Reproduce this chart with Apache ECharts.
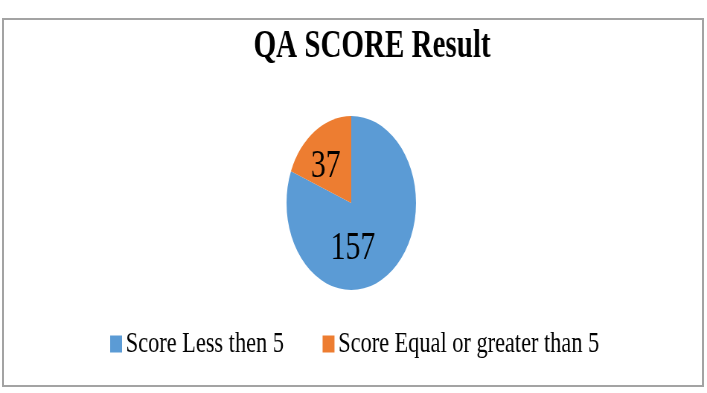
<!DOCTYPE html>
<html>
<head>
<meta charset="utf-8">
<script src="https://cdn.jsdelivr.net/npm/echarts@6/dist/echarts.min.js"></script>
<style>
  html, body { margin:0; padding:0; background:#fff; width:707px; height:393px; overflow:hidden; }
  #frame { position:absolute; left:2px; top:18px; width:698px; height:365px; border:2px solid #a3a3a3; }
  #chart { position:absolute; left:0; top:0; width:950px; height:393px; transform:scaleX(0.7442); transform-origin:0 0; }
</style>
</head>
<body>
<div id="frame"></div>
<div id="chart"></div>
<script>
const titleText = 'QA SCORE Result';
const categories = ['Score Less then 5', 'Score Equal or greater than 5'];
const values = [157, 37];
const colors = ['#5B9BD5', '#ED7D31'];

const chart = echarts.init(document.getElementById('chart'), null, { renderer: 'canvas' });
const labelOffsets = [[-24, 7], [-8, 2]];
chart.setOption({
  animation: false,
  color: colors,
  title: {
    text: titleText,
    left: 495,
    textAlign: 'center',
    top: 22,
    textStyle: { fontFamily: 'Liberation Serif', fontWeight: 'bold', fontSize: 39, color: '#000' }
  },
  legend: {
    data: categories,
    left: 148,
    top: 329,
    padding: 0,
    icon: 'rect',
    itemWidth: 16,
    itemHeight: 17,
    itemGap: 52,
    textStyle: { fontFamily: 'Liberation Serif', fontSize: 30, color: '#000' }
  },
  series: [{
    type: 'pie',
    center: [472, 203],
    radius: 87,
    startAngle: 90,
    clockwise: true,
    label: {
      show: true,
      position: 'inside',
      formatter: '{c}',
      fontFamily: 'Liberation Serif',
      fontSize: 40,
      color: '#000'
    },
    labelLine: { show: false },
    emphasis: { disabled: true },
    data: categories.map((name, i) => ({
      name: name,
      value: values[i],
      label: { offset: labelOffsets[i] }
    }))
  }]
});
</script>
</body>
</html>
